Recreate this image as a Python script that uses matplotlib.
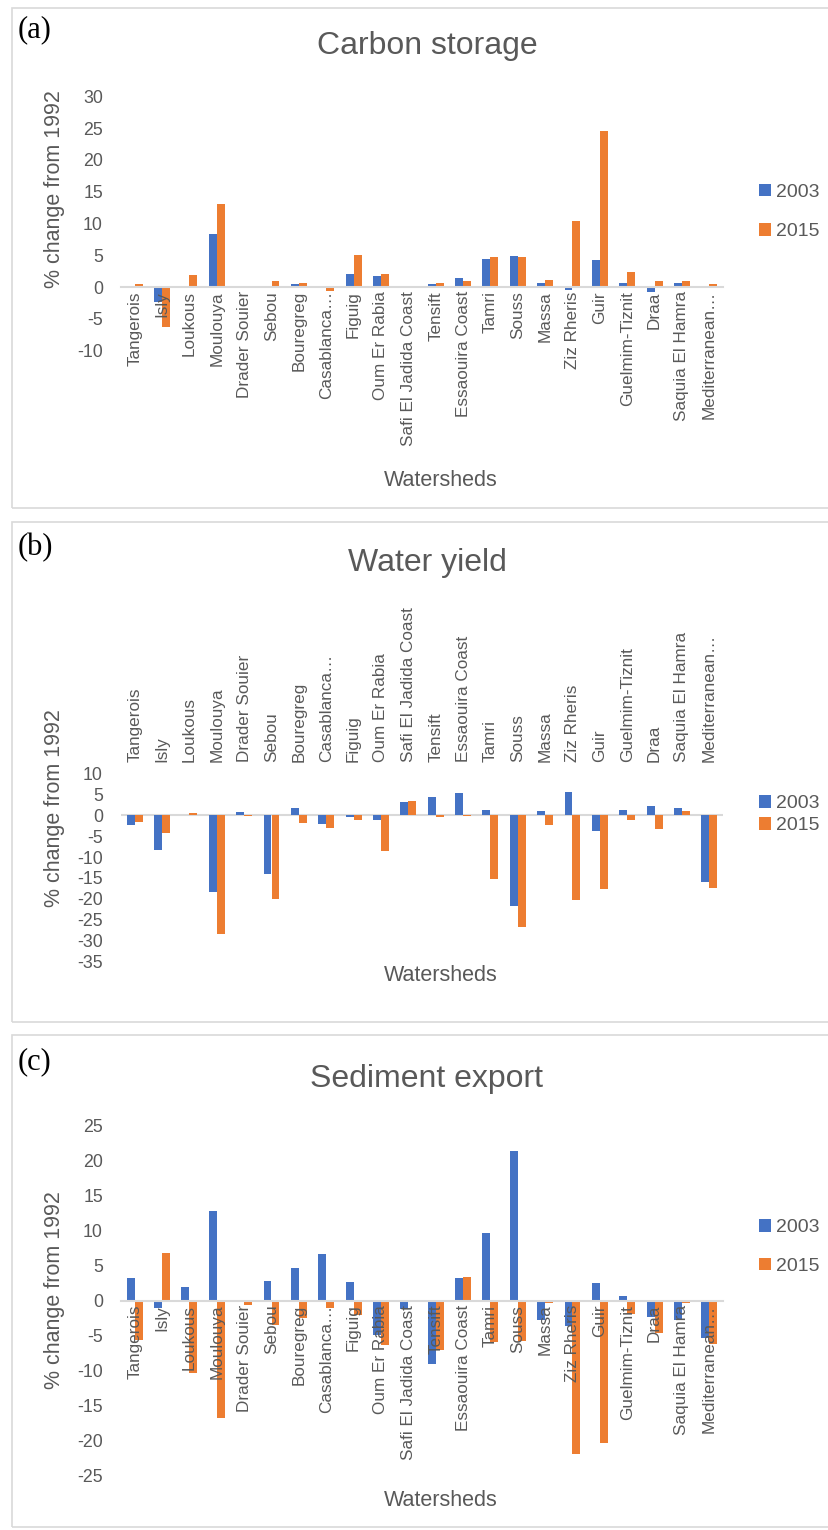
import matplotlib
matplotlib.use("Agg")
import matplotlib.pyplot as plt
from matplotlib.patches import Rectangle
import numpy as np

plt.rcParams['font.family'] = ['Liberation Sans', 'DejaVu Sans']
plt.rcParams['axes.unicode_minus'] = False

categories = ["Tangerois", "Isly", "Loukous", "Moulouya", "Drader Souier", "Sebou",
              "Bouregreg", "Casablanca…", "Figuig", "Oum Er Rabia", "Safi El Jadida Coast",
              "Tensift", "Essaouira Coast", "Tamri", "Souss", "Massa", "Ziz Rheris", "Guir",
              "Guelmim-Tiznit", "Draa", "Saquia El Hamra", "Mediterranean…"]
series_names = ["2003", "2015"]

carbon_2003 = [0.0, -2.3, 0.2, 8.4, 0.1, 0.15, 0.45, 0.15, 2.0, 1.8, 0.0, 0.5, 1.35, 4.4,
               4.95, 0.7, -0.5, 4.2, 0.7, -0.8, 0.7, 0.05]
carbon_2015 = [0.5, -6.3, 1.9, 13.1, 0.1, 0.9, 0.6, -0.6, 5.1, 2.0, -0.2, 0.6, 0.9, 4.8,
               4.7, 1.15, 10.4, 24.6, 2.4, 0.9, 0.9, 0.5]

water_2003 = [-2.4, -8.3, 0.0, -18.3, 0.7, -14.1, 1.6, -2.1, -0.5, -1.2, 3.2, 4.4, 5.2, 1.2,
              -21.6, 1.0, 5.6, -3.7, 1.35, 2.1, 1.8, -16.0]
water_2015 = [-1.7, -4.2, 0.6, -28.4, -0.3, -20.0, -1.8, -3.0, -1.2, -8.5, 3.5, -0.4, -0.3, -15.3,
              -26.8, -2.4, -20.2, -17.7, -1.1, -3.3, 0.95, -17.5]

sed_2003 = [3.25, -1.1, 1.9, 12.85, 0.1, 2.75, 4.7, 6.7, 2.6, -4.9, -1.2, -9.1, 3.25, 9.6,
            21.3, -2.8, -3.6, 2.5, 0.6, -2.4, -2.85, -5.4]
sed_2015 = [-5.7, 6.8, -10.3, -16.8, -0.7, -3.5, -2.5, -1.1, -2.0, -6.3, 0.0, -7.1, 3.4, -5.9,
            -5.8, -0.3, -21.95, -20.4, -1.9, -4.7, -0.4, -6.2]

titles = ["Carbon storage", "Water yield", "Sediment export"]
panel_tags = ["(a)", "(b)", "(c)"]
yticks_list = [list(range(-10, 31, 5)), list(range(-35, 11, 5)), list(range(-25, 26, 5))]

W, H = 829, 1530
DPI = 100
fig = plt.figure(figsize=(W / DPI, H / DPI), dpi=DPI)

def fx(x):
    return x / W

def fy(y):
    return 1 - y / H

BLUE = "#4472C4"
ORANGE = "#ED7D31"
GRAY = "#595959"
LINE = "#D9D9D9"

# panel layout in pixels
panels = [
    dict(box=(12, 8, 508), ax_top=96.5, ax_bot=350.5, title_y=46, tag_y=30,
         ylab_y=189, xlab_y=480, leg_y=212, leg_sp=1.15, labels_top=False),
    dict(box=(12, 522, 1022), ax_top=773.3, ax_bot=961.7, title_y=563, tag_y=548,
         ylab_y=808, xlab_y=976, leg_y=814.5, leg_sp=0.25, labels_top=True),
    dict(box=(12, 1035, 1527), ax_top=1125.5, ax_bot=1475.5, title_y=1079, tag_y=1062,
         ylab_y=1290, xlab_y=1500, leg_y=1247, leg_sp=1.1, labels_top=False),
]
data = [(carbon_2003, carbon_2015), (water_2003, water_2015), (sed_2003, sed_2015)]

AX_L, AX_R = 121, 723
x = np.arange(len(categories))
bw = 0.29

for i, p in enumerate(panels):
    bx, by0, by1 = p['box']
    fig.add_artist(Rectangle((fx(bx), fy(by1)), fx(W + 5) - fx(bx), fy(by0) - fy(by1),
                             transform=fig.transFigure, fill=False, edgecolor=LINE, lw=1.2))
    ax = fig.add_axes([fx(AX_L), fy(p['ax_bot']), fx(AX_R - AX_L), (p['ax_bot'] - p['ax_top']) / H])
    yt = yticks_list[i]
    v03, v15 = data[i]
    ax.bar(x - bw / 2, v03, width=bw, color=BLUE, label=series_names[0], zorder=1)
    ax.bar(x + bw / 2, v15, width=bw, color=ORANGE, label=series_names[1], zorder=1)
    ax.set_xlim(-0.5, len(categories) - 0.5)
    ax.set_ylim(yt[0], yt[-1])
    ax.set_yticks(yt)
    ax.set_yticklabels([str(v) for v in yt])
    ax.tick_params(axis='y', length=0, pad=13, labelsize=12.8, labelcolor=GRAY)
    for s in ['left', 'right', 'top']:
        ax.spines[s].set_visible(False)
    ax.set_xticks(x)
    if p['labels_top']:
        ax.spines['bottom'].set_visible(False)
        ax.axhline(0, color=LINE, lw=1.5, zorder=0.5)
        ax.xaxis.tick_top()
        ax.set_xticklabels(categories, rotation=90)
        ax.tick_params(axis='x', length=0, pad=8, labelsize=12.3, labelcolor=GRAY,
                       top=True, bottom=False)
    else:
        ax.spines['bottom'].set_position(('data', 0))
        ax.spines['bottom'].set_color(LINE)
        ax.spines['bottom'].set_linewidth(1.5)
        ax.set_xticklabels(categories, rotation=90)
        ax.tick_params(axis='x', length=0, pad=3, labelsize=12.3, labelcolor=GRAY)
    ax.patch.set_alpha(0)

    fig.text(fx(427), fy(p['title_y']), titles[i], ha='center', va='center',
             fontsize=23, color=GRAY)
    fig.text(fx(18), fy(p['tag_y']), panel_tags[i], ha='left', va='center',
             fontsize=22, color='black', family=['Liberation Serif', 'DejaVu Serif'])
    fig.text(fx(55), fy(p['ylab_y']), "% change from 1992", rotation=90, ha='center',
             va='center', fontsize=15.5, color=GRAY)
    fig.text(fx(441), fy(p['xlab_y']), "Watersheds", ha='center', va='center',
             fontsize=15.5, color=GRAY)
    leg = ax.legend(loc='center left', bbox_to_anchor=(fx(759), fy(p['leg_y'])),
                    bbox_transform=fig.transFigure, frameon=False, fontsize=14,
                    handlelength=0.62, handleheight=0.62, handletextpad=0.25,
                    labelspacing=p['leg_sp'], borderpad=0, borderaxespad=0)
    for t in leg.get_texts():
        t.set_color(GRAY)

fig.savefig("out.png", dpi=DPI)
